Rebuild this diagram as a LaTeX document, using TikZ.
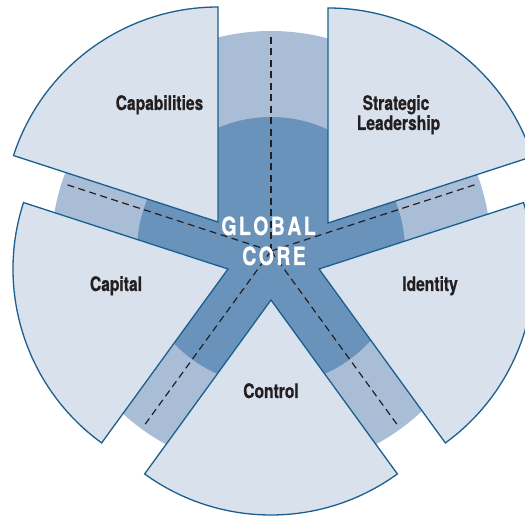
\documentclass[tikz,border=0pt]{standalone}
\usepackage{fontspec}
\newfontfamily\lblfont[FakeStretch=0.78,BoldFeatures={FakeBold=0.6}]{TeX Gyre Heros}
\usetikzlibrary{calc}
\definecolor{petalfill}{HTML}{D9E1EC}
\definecolor{ringlight}{HTML}{A9BDD7}
\definecolor{coredark}{HTML}{6A93BB}
\definecolor{edgeblue}{HTML}{1A5F8E}
\definecolor{inkdark}{HTML}{231F20}
\newcommand{\lsp}{\kern2.4pt}
\begin{document}
\begin{tikzpicture}[x=1pt,y=1pt,
  petal/.style={fill=petalfill, draw=edgeblue, line width=1.3pt, line join=miter},
  spoke/.style={draw=inkdark, line width=1.2pt, dash pattern=on 7pt off 4.5pt},
  lbl/.style={font=\lblfont\bfseries\fontsize{20}{20}\selectfont, text=inkdark, inner sep=0pt, anchor=base},
  corelbl/.style={font=\lblfont\bfseries\fontsize{25}{25}\selectfont, text=white, inner sep=0pt, anchor=base}]
\useasboundingbox (0,0) rectangle (525,-518);
\clip (0,0) rectangle (525,-518);
% centre and rings
\coordinate (c) at (271,-251);
\fill[ringlight] (c) circle[radius=220];
\fill[coredark] (c) circle[radius=134];
% spokes
\foreach \a/\n in {90/1,18/2,-54/3,-126/4,162/5}{
  \coordinate (s\n) at ($(c)+(\a:216)$);
  \draw[spoke] (c) -- (s\n);
}
% petal apexes
\coordinate (pcap) at (218,-222);
\coordinate (pstr) at (328,-223);
\coordinate (pide) at (319,-269);
\coordinate (pcon) at (271,-300);
\coordinate (pcpl) at (228,-269);
% petals
\path[petal] (pcap) -- ++(90:215) arc[start angle=90, end angle=162, radius=215] -- cycle;
\path[petal] (pstr) -- ++(18:215) arc[start angle=18, end angle=90, radius=215] -- cycle;
\path[petal] (pide) -- ++(-54:215) arc[start angle=-54, end angle=18, radius=215] -- cycle;
\path[petal] (pcon) -- ++(-126:215) arc[start angle=-126, end angle=-54, radius=215] -- cycle;
\path[petal] (pcpl) -- ++(162:215) arc[start angle=162, end angle=234, radius=215] -- cycle;
% labels
\node[lbl] (lcap) at (159.5,-110) {Capabilities};
\node[lbl] (lstr1) at (396,-110) {Strategic};
\node[lbl] (lstr2) at (398.5,-130) {Leadership};
\node[lbl] (lide) at (430,-291) {Identity};
\node[lbl] (lcpl) at (116,-291) {Capital};
\node[lbl] (lcon) at (271,-398) {Control};
\node[corelbl] (g1) at (268.5,-235) {G\lsp L\lsp O\lsp B\lsp A\lsp L};
\node[corelbl] (g2) at (274,-265) {C\lsp O\lsp R\lsp E};
\end{tikzpicture}
\end{document}
